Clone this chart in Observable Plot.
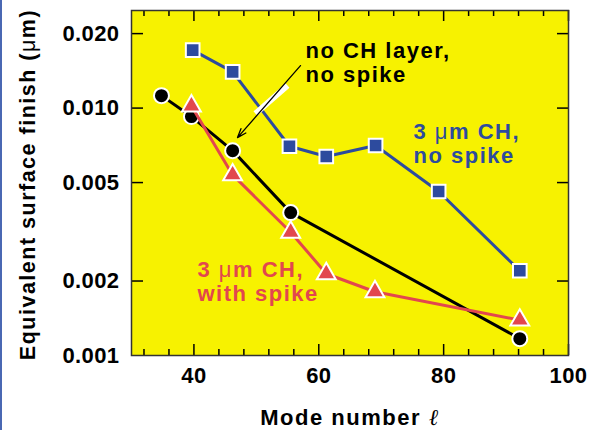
<!DOCTYPE html>
<html>
<head>
<meta charset="utf-8">
<script src="https://cdn.jsdelivr.net/npm/d3@7"></script>
<script src="https://cdn.jsdelivr.net/npm/@observablehq/plot@0.6"></script>
<style>
  html, body { margin: 0; padding: 0; background: #fff; }
  body { position: relative; width: 601px; height: 430px; overflow: hidden; }
  body::before { content: ""; position: absolute; left: 0; top: 0; width: 2px; height: 430px; background: #4a68b3; }
  svg text { letter-spacing: 1.5px; }
  g[aria-label="y-axis tick label"] text, g[aria-label="x-axis tick label"] text { letter-spacing: 0.4px; }
</style>
</head>
<body>
<script>
// ---- data ----
const modeBlack   = [34.8, 39.6, 46.2, 55.5, 92.2];
const finishBlack = [0.01123, 0.00924, 0.00673, 0.00378, 0.00117];

const modeRed     = [39.6, 46.2, 55.5, 61.2, 69.0, 92.2];
const finishRed   = [0.0102, 0.00537, 0.00315, 0.00214, 0.00181, 0.00139];

const modeBlue    = [39.8, 46.2, 55.3, 61.2, 69.1, 79.2, 92.2];
const finishBlue  = [0.01715, 0.0140, 0.00701, 0.00637, 0.00706, 0.0046, 0.0022];

const xMajor = [40, 60, 80, 100];
const xMinor = [32, 36, 44, 48, 52, 56, 64, 68, 72, 76, 84, 88, 92, 96];
const yTicks = [0.001, 0.002, 0.005, 0.010, 0.020];

const noteText   = ["no CH layer,\nno spike", "3 μm CH,\nno spike", "3 μm CH,\nwith spike"];
const noteMode   = [57.87, 75.17, 40.57];
const noteFinish = [0.01274, 0.00602, 0.001668];

const arrowMode   = [57.07, 46.98];
const arrowFinish = [0.01485, 0.0076];
const barMode     = [54.99, 49.86];
const barFinish   = [0.01233, 0.0095];

const xLabel = "Mode number ℓ";
const yLabel = "Equivalent surface finish (μm)";

// ---- colours ----
const YELLOW = "#f7f200";
const BLUE = "#2d4b9e";
const RED = "#e2474e";
const noteColor = ["#000000", BLUE, RED];

const black = modeBlack.map((x, i) => ({x, y: finishBlack[i]}));
const red = modeRed.map((x, i) => ({x, y: finishRed[i]}));
const blue = modeBlue.map((x, i) => ({x, y: finishBlue[i]}));
const notes = noteText.map((t, i) => ({t, x: noteMode[i], y: noteFinish[i], c: noteColor[i]}));

const W = 601, H = 430, ML = 131, MR = 33, MT = 10, MB = 75;
const FW = W - ML - MR, FH = H - MT - MB;

const chart = Plot.plot({
  width: W, height: H,
  marginLeft: ML, marginRight: MR, marginTop: MT, marginBottom: MB,
  style: {background: "transparent", fontFamily: "'Liberation Sans', Arial, sans-serif", fontSize: "22px", fontWeight: "bold", color: "#000"},
  x: {domain: [30, 100]},
  y: {type: "log", domain: [0.001, 0.0248]},
  marks: [
    Plot.frame({fill: YELLOW, stroke: null}),
    // ticks (inward)
    Plot.tickX(xMajor, {x: d => d, insetTop: FH - 11, stroke: "#000", strokeWidth: 1.5}),
    Plot.tickX(xMinor, {x: d => d, insetTop: FH - 6, stroke: "#000", strokeWidth: 1.5}),
    Plot.tickX(xMajor, {x: d => d, insetBottom: FH - 11, stroke: "#000", strokeWidth: 1.5}),
    Plot.tickX(xMinor, {x: d => d, insetBottom: FH - 6, stroke: "#000", strokeWidth: 1.5}),
    Plot.tickY(yTicks.filter(d => d > 0.001), {y: d => d, insetRight: FW - 12, stroke: "#000", strokeWidth: 1.5}),
    Plot.tickY(yTicks.filter(d => d > 0.001), {y: d => d, insetLeft: FW - 11, stroke: "#000", strokeWidth: 1.5}),
    // black series
    Plot.line(black, {x: "x", y: "y", stroke: "#000", strokeWidth: 3}),
    Plot.dot(black, {x: "x", y: "y", r: 7.5, symbol: "circle", fill: "#000", stroke: "#fff", strokeWidth: 2}),
    // red series
    Plot.line(red, {x: "x", y: "y", stroke: RED, strokeWidth: 3}),
    Plot.dot(red, {x: "x", y: "y", r: 7, symbol: "triangle", fill: RED, stroke: "#fff", strokeWidth: 2}),
    // blue series
    Plot.line(blue, {x: "x", y: "y", stroke: BLUE, strokeWidth: 3}),
    Plot.dot(blue, {x: "x", y: "y", r: 7.7, symbol: "square", fill: BLUE, stroke: "#fff", strokeWidth: 2}),
    // arrow with white break
    Plot.link([0], {x1: () => barMode[0], y1: () => barFinish[0], x2: () => barMode[1], y2: () => barFinish[1], stroke: "#fff", strokeWidth: 6}),
    Plot.arrow([0], {x1: () => arrowMode[0], y1: () => arrowFinish[0], x2: () => arrowMode[1], y2: () => arrowFinish[1], stroke: "#000", strokeWidth: 1.3, headLength: 11, headAngle: 40}),
    // annotations
    Plot.text(notes, {x: "x", y: "y", text: "t", fill: "c", textAnchor: "start", lineAnchor: "bottom", lineHeight: 1.08, fontSize: 22, fontWeight: "bold"}),
    // axes
    Plot.axisX({anchor: "bottom", ticks: xMajor, tickSize: 0, tickPadding: 12, label: null, fontSize: 22}),
    Plot.axisY({anchor: "left", ticks: yTicks, tickSize: 0, tickPadding: 12, tickFormat: d3.format(".3f"), label: null, fontSize: 22}),
    Plot.text([xLabel], {text: d => d, frameAnchor: "bottom", textAnchor: "middle", dy: 69, lineAnchor: "bottom", fontSize: 22, fontWeight: "bold"}),
    Plot.text([yLabel], {text: d => d, frameAnchor: "left", textAnchor: "middle", rotate: -90, dx: -97, dy: 1.5, lineAnchor: "bottom", fontSize: 21.5, fontWeight: "bold"}),
    Plot.frame({stroke: "#333", strokeWidth: 1.5})
  ]
});

// render μ and ℓ in lighter/italic style as in the reference
(function styleSpecial(svg) {
  const walker = document.createTreeWalker(svg, NodeFilter.SHOW_TEXT);
  const nodes = [];
  while (walker.nextNode()) nodes.push(walker.currentNode);
  for (const n of nodes) {
    if (!/[μℓ]/.test(n.data)) continue;
    const parent = n.parentNode;
    const frag = document.createDocumentFragment();
    for (const p of n.data.split(/([μℓ])/)) {
      if (!p) continue;
      if (p === "μ" || p === "ℓ") {
        const t = document.createElementNS("http://www.w3.org/2000/svg", "tspan");
        t.textContent = p;
        t.setAttribute("font-weight", "normal");
        if (p === "ℓ") {
          t.setAttribute("font-style", "italic");
          t.setAttribute("font-family", "'Liberation Serif', serif");
          t.setAttribute("font-size", "23");
        }
        frag.appendChild(t);
      } else {
        frag.appendChild(document.createTextNode(p));
      }
    }
    parent.replaceChild(frag, n);
  }
})(chart);

document.body.appendChild(chart);
</script>
</body>
</html>
